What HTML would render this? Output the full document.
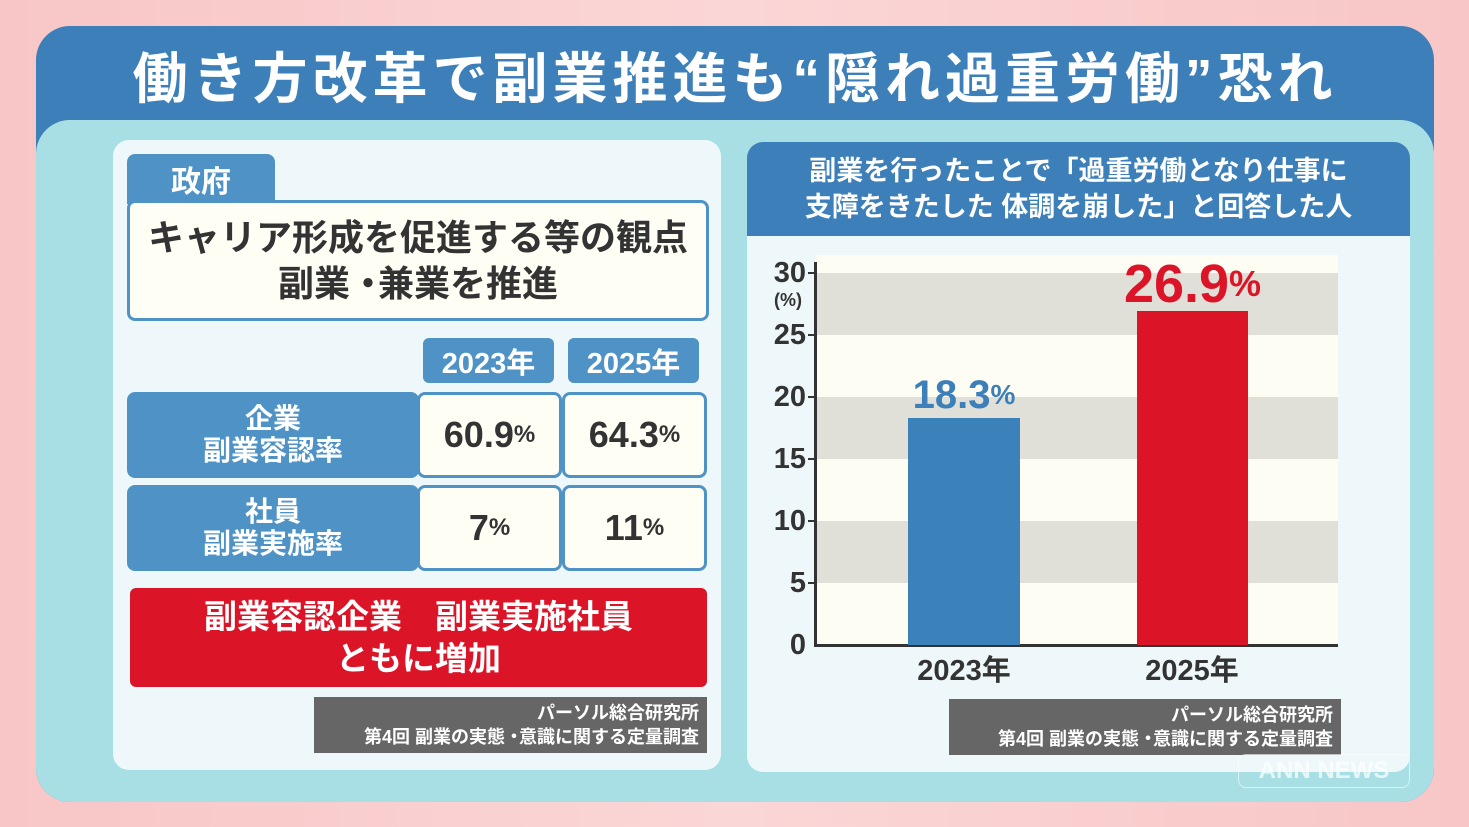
<!DOCTYPE html>
<html><head><meta charset="utf-8"><style>
*{margin:0;padding:0;box-sizing:border-box}
body{width:1469px;height:827px;overflow:hidden;background:linear-gradient(90deg,#f8c6c6,#fbd6d6 50%,#f8c6c6);font-family:"Liberation Sans","Noto Sans CJK JP",sans-serif;position:relative}
.a{position:absolute}
.c{display:flex;align-items:center;justify-content:center;text-align:center}
.b{font-weight:bold}
.d{letter-spacing:-0.5em}
</style></head><body>
<div class="a" style="left:36px;top:26px;width:1398px;height:776px;border-radius:34px;background:#3c7fb9"></div>
<div class="a c b" style="left:36px;top:36px;width:1398px;height:76px;color:#fff;font-size:55px;letter-spacing:5px">働き方改革で副業推進も“隠れ過重労働”恐れ</div>
<div class="a" style="left:36px;top:120px;width:1398px;height:682px;border-radius:34px;background:#a7dfe4"></div>

<!-- left panel -->
<div class="a" style="left:113px;top:140px;width:608px;height:630px;border-radius:16px;background:#eef8fa"></div>
<div class="a c b" style="left:127px;top:154px;width:148px;height:50px;background:#4f93c6;border-radius:8px 8px 0 0;color:#fff;font-size:30px">政府</div>
<div class="a c b" style="left:127px;top:200px;width:582px;height:121px;background:#fffef5;border:3px solid #4f93c6;border-radius:8px;color:#333;font-size:36px;line-height:46px"><div>キャリア形成を促進する等の観点<br>副業<span class="d">・</span>&nbsp;兼業を推進</div></div>
<div class="a c b" style="left:423px;top:338px;width:131px;height:45px;background:#4f93c6;border-radius:6px;color:#fff;font-size:29px">2023年</div>
<div class="a c b" style="left:568px;top:338px;width:131px;height:45px;background:#4f93c6;border-radius:6px;color:#fff;font-size:29px">2025年</div>
<div class="a c b" style="left:127px;top:392px;width:292px;height:86px;background:#4f93c6;border-radius:8px;color:#fff;font-size:28px;line-height:32px"><div>企業<br>副業容認率</div></div>
<div class="a c b" style="left:127px;top:485px;width:292px;height:86px;background:#4f93c6;border-radius:8px;color:#fff;font-size:28px;line-height:32px"><div>社員<br>副業実施率</div></div>
<div class="a c b" style="left:417px;top:392px;width:145px;height:86px;background:#fffef5;border:3px solid #4f93c6;border-radius:8px;color:#333;font-size:36px">60.9<span style="font-size:24px">%</span></div>
<div class="a c b" style="left:562px;top:392px;width:145px;height:86px;background:#fffef5;border:3px solid #4f93c6;border-radius:8px;color:#333;font-size:36px">64.3<span style="font-size:24px">%</span></div>
<div class="a c b" style="left:417px;top:485px;width:145px;height:86px;background:#fffef5;border:3px solid #4f93c6;border-radius:8px;color:#333;font-size:36px">7<span style="font-size:24px">%</span></div>
<div class="a c b" style="left:562px;top:485px;width:145px;height:86px;background:#fffef5;border:3px solid #4f93c6;border-radius:8px;color:#333;font-size:36px">11<span style="font-size:24px">%</span></div>
<div class="a c b" style="left:130px;top:588px;width:577px;height:99px;background:#db1428;border-radius:6px;color:#fff;font-size:33px;line-height:42px"><div>副業容認企業　副業実施社員<br>ともに増加</div></div>
<div class="a b" style="left:314px;top:697px;width:393px;height:56px;background:#666;color:#fff;font-size:18px;line-height:24px;text-align:right;padding:4px 8px 0 0">パーソル総合研究所<br>第4回 副業の実態<span class="d">・</span>&nbsp;意識に関する定量調査</div>

<!-- right panel -->
<div class="a" style="left:747px;top:142px;width:663px;height:630px;border-radius:16px;background:#eef8fa;overflow:hidden">
<div class="a c b" style="left:0;top:0;width:663px;height:94px;background:#3c7fb9;color:#fff;font-size:27px;line-height:36px"><div>副業を行ったことで「過重労働となり仕事に<br>支障をきたした 体調を崩した」と回答した人</div></div>
</div>
<div class="a" style="left:815px;top:255px;width:523px;height:390px;background:#fdfdf3"></div>
<div class="a" style="left:815px;top:273px;width:523px;height:62px;background:#e0e0d8"></div>
<div class="a" style="left:815px;top:397px;width:523px;height:62px;background:#e0e0d8"></div>
<div class="a" style="left:815px;top:521px;width:523px;height:62px;background:#e0e0d8"></div>
<div class="a" style="left:814px;top:262px;width:3px;height:385px;background:#333"></div>
<div class="a" style="left:814px;top:644px;width:524px;height:3px;background:#333"></div>
<div class="a b" style="left:760px;top:256px;width:46px;text-align:right;font-size:29px;color:#333;line-height:34px">30</div>
<div class="a b" style="left:765px;top:290px;width:46px;text-align:center;font-size:18px;color:#333">(%)</div>
<div class="a b" style="left:760px;top:318px;width:46px;text-align:right;font-size:29px;color:#333;line-height:34px">25</div>
<div class="a b" style="left:760px;top:380px;width:46px;text-align:right;font-size:29px;color:#333;line-height:34px">20</div>
<div class="a b" style="left:760px;top:442px;width:46px;text-align:right;font-size:29px;color:#333;line-height:34px">15</div>
<div class="a b" style="left:760px;top:504px;width:46px;text-align:right;font-size:29px;color:#333;line-height:34px">10</div>
<div class="a b" style="left:760px;top:566px;width:46px;text-align:right;font-size:29px;color:#333;line-height:34px">5</div>
<div class="a b" style="left:760px;top:628px;width:46px;text-align:right;font-size:29px;color:#333;line-height:34px">0</div>
<div class="a" style="left:808px;top:272px;width:8px;height:2px;background:#333"></div>
<div class="a" style="left:808px;top:334px;width:8px;height:2px;background:#333"></div>
<div class="a" style="left:808px;top:396px;width:8px;height:2px;background:#333"></div>
<div class="a" style="left:808px;top:458px;width:8px;height:2px;background:#333"></div>
<div class="a" style="left:808px;top:520px;width:8px;height:2px;background:#333"></div>
<div class="a" style="left:808px;top:582px;width:8px;height:2px;background:#333"></div>
<div class="a" style="left:908px;top:418px;width:112px;height:227px;background:#3c82ba"></div>
<div class="a" style="left:1137px;top:311px;width:111px;height:334px;background:#db1428"></div>
<div class="a c b" style="left:884px;top:372px;width:160px;height:46px;color:#3c7fb9;font-size:40px">18.3<span style="font-size:28px">%</span></div>
<div class="a c b" style="left:1100px;top:254px;width:185px;height:60px;color:#db1428;font-size:54px">26.9<span style="font-size:36px">%</span></div>
<div class="a c b" style="left:894px;top:650px;width:140px;height:36px;color:#333;font-size:29px">2023年</div>
<div class="a c b" style="left:1122px;top:650px;width:140px;height:36px;color:#333;font-size:29px">2025年</div>
<div class="a b" style="left:949px;top:699px;width:392px;height:56px;background:#666;color:#fff;font-size:18px;line-height:24px;text-align:right;padding:4px 8px 0 0">パーソル総合研究所<br>第4回 副業の実態<span class="d">・</span>&nbsp;意識に関する定量調査</div>
<div class="a c b" style="left:1238px;top:754px;width:172px;height:34px;border:1px solid rgba(255,255,255,.6);border-radius:8px;color:rgba(255,255,255,.7);font-size:24px">ANN NEWS</div>
</body></html>
